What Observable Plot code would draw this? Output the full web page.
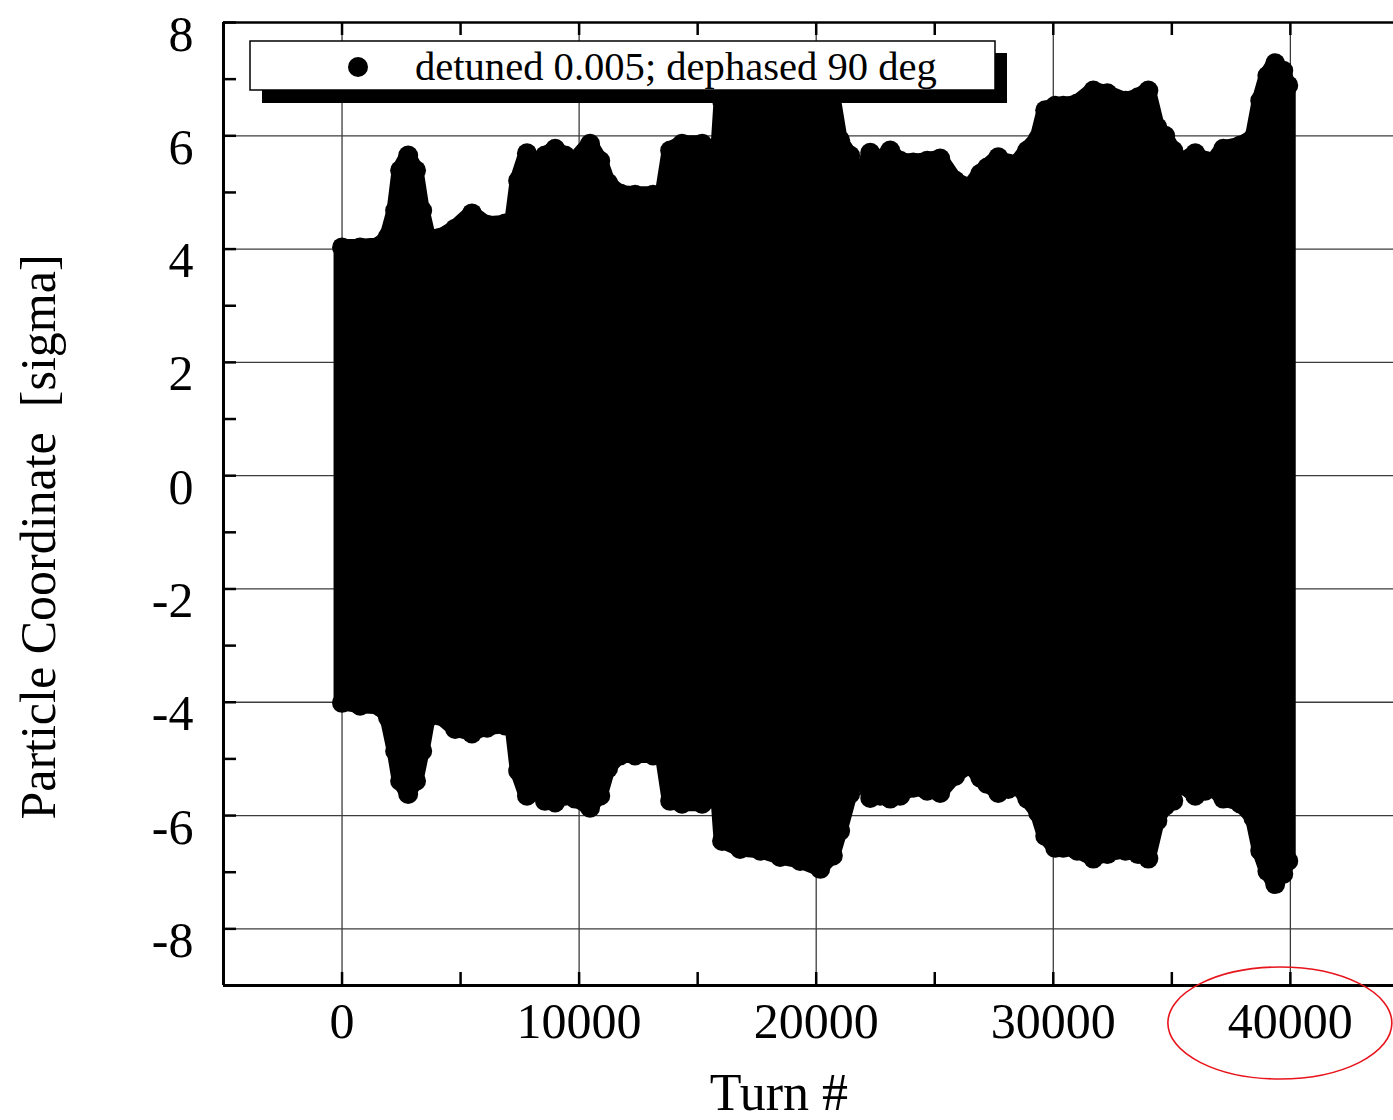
<!DOCTYPE html>
<html>
<head>
<meta charset="utf-8">
<script src="https://cdn.jsdelivr.net/npm/d3@7"></script>
<script src="https://cdn.jsdelivr.net/npm/@observablehq/plot@0.6"></script>
<style>
  html, body { margin: 0; padding: 0; background: #fff; }
  #chart { width: 1393px; height: 1120px; overflow: hidden; }
</style>
</head>
<body>
<div id="chart"></div>
<script>
// Envelope of the tracked particle coordinate (sigma) versus turn number
const turns = [0, 760, 1600, 1940, 2240, 2450, 2790, 3120, 3380, 3630, 4130, 4770, 5480, 6120, 6880, 7210,
  7430, 7800, 8140, 8560, 8990, 9410, 9830, 10460, 10890, 11220, 11730, 12360, 13120, 13540, 13840,
  14340, 15190, 15610, 15900, 16030, 16790, 17640, 18480, 19320, 20170, 20700, 21010, 21430, 21730, 22280, 22700,
  23120, 23540, 24090, 24680, 25230, 25860, 26500, 26920, 27210, 27680, 28100, 28480, 28900, 29360,
  29660, 30080, 30420, 31010, 31690, 32280, 33040, 33580, 34010, 34390, 34720, 35060, 35230, 35480,
  35990, 36410, 36620, 37170, 37890, 38440, 38730, 39030, 39360, 39700, 39910];
const upper = [4.03, 4.03, 4.06, 4.22, 4.68, 5.39, 5.65, 5.39, 4.68, 4.22, 4.20, 4.36, 4.63, 4.43, 4.45, 4.50,
  5.21, 5.69, 5.30, 5.65, 5.77, 5.65, 5.56, 5.86, 5.56, 5.17, 4.98, 4.96, 4.96, 4.94, 5.74,
  5.86, 5.86, 5.77, 5.77, 6.62, 6.71, 6.71, 6.71, 6.71, 6.71, 6.71, 5.92, 5.65, 5.03, 5.70, 5.56,
  5.74, 5.56, 5.53, 5.56, 5.60, 5.21, 5.09, 5.33, 5.44, 5.62, 5.51, 5.51, 5.74, 5.95,
  6.45, 6.53, 6.53, 6.57, 6.80, 6.75, 6.62, 6.68, 6.80, 6.15, 6.00, 5.74, 4.98, 5.56,
  5.69, 5.56, 5.47, 5.77, 5.83, 5.97, 6.62, 7.06, 7.28, 7.15, 6.89];
const lower = [-4.01, -4.06, -4.08, -4.27, -4.86, -5.39, -5.62, -5.39, -4.86, -4.27, -4.24, -4.47, -4.55, -4.45, -4.41, -4.41,
  -5.21, -5.65, -5.39, -5.74, -5.77, -5.65, -5.70, -5.86, -5.65, -5.17, -4.94, -4.94, -4.94, -4.91, -5.74,
  -5.79, -5.79, -5.70, -5.70, -6.45, -6.59, -6.62, -6.73, -6.80, -6.94, -6.71, -6.27, -5.62, -5.03, -5.69, -5.65,
  -5.70, -5.65, -5.51, -5.56, -5.60, -5.30, -5.12, -5.33, -5.44, -5.60, -5.53, -5.47, -5.70, -5.95,
  -6.36, -6.57, -6.57, -6.62, -6.76, -6.68, -6.62, -6.68, -6.76, -6.09, -5.83, -5.74, -4.98, -5.47,
  -5.65, -5.56, -5.47, -5.70, -5.79, -6.04, -6.62, -6.98, -7.21, -7.03, -6.80];

const xTicks = [0, 10000, 20000, 30000, 40000];
const xMinor = [5000, 15000, 25000, 35000];
const yTicks = [-8, -6, -4, -2, 0, 2, 4, 6, 8];
const yMinor = [-7, -5, -3, -1, 1, 3, 5, 7];
const xTitle = "Turn #";
const yTitle = "Particle Coordinate\u00a0\u00a0[sigma]";
const seriesLabel = "detuned 0.005; dephased 90 deg";

const envelope = turns.map((t, i) => ({turn: t, upper: upper[i], lower: lower[i]}));
const edgePoints = envelope.flatMap(d => [{turn: d.turn, v: d.upper}, {turn: d.turn, v: d.lower}]);

const serif = "'Liberation Serif', 'Times New Roman', Times, serif";
const W = 1393, H = 1120;
const mL = 223, mR = 0, mT = 22, mB = 135;
const innerW = W - mL - mR, innerH = H - mT - mB;
const tickLen = 13;

const chart = Plot.plot({
  width: W,
  height: H,
  marginLeft: mL,
  marginRight: mR,
  marginTop: mT,
  marginBottom: mB,
  style: {fontFamily: serif, background: "#fff", color: "#000"},
  x: {domain: [-5000, 44350], axis: null},
  y: {domain: [-9, 8], axis: null},
  marks: [
    // grid
    Plot.ruleX(xTicks, {x: d => d, stroke: "#3c3c3c", strokeWidth: 1.3}),
    Plot.ruleY(yTicks.filter(v => v < 8), {y: d => d, stroke: "#3c3c3c", strokeWidth: 1.3}),
    // particle coordinate band
    Plot.areaY(envelope, {x: "turn", y1: "lower", y2: "upper", fill: "#000", stroke: "#000",
      strokeWidth: 16, strokeLinejoin: "round"}),
    Plot.dot(edgePoints, {x: "turn", y: "v", r: 10, fill: "#000"}),
    // inward ticks
    Plot.ruleX([...xTicks, ...xMinor], {x: d => d, insetTop: innerH - tickLen, stroke: "#000", strokeWidth: 2.5}),
    Plot.ruleX([...xTicks, ...xMinor], {x: d => d, insetBottom: innerH - tickLen, stroke: "#000", strokeWidth: 2.5}),
    Plot.ruleY([...yTicks, ...yMinor], {y: d => d, insetRight: innerW - tickLen, stroke: "#000", strokeWidth: 2.5}),
    // frame
    Plot.ruleX([-5000], {x: d => d, stroke: "#000", strokeWidth: 3}),
    Plot.ruleY([-9], {y: d => d, stroke: "#000", strokeWidth: 3}),
    Plot.ruleY([8], {y: d => d, stroke: "#000", strokeWidth: 2.5}),
    // tick labels
    Plot.text(xTicks, {x: d => d, text: d => String(d), frameAnchor: "bottom", dy: 36,
      fontSize: 50, fontFamily: serif, fill: "#000", lineAnchor: "middle"}),
    Plot.text(yTicks, {y: d => d, text: d => String(d), frameAnchor: "left", dx: -30, dy: 12,
      textAnchor: "end", fontSize: 50, fontFamily: serif, fill: "#000", lineAnchor: "middle"})
  ]
});

document.getElementById("chart").appendChild(chart);

const svg = d3.select(chart);
const xs = chart.scale("x");

// axis titles
svg.append("text")
  .attr("x", 779).attr("y", 1110)
  .attr("text-anchor", "middle")
  .attr("font-family", serif).attr("font-size", 52).attr("fill", "#000")
  .text(xTitle);
svg.append("text")
  .attr("transform", "translate(55,537) rotate(-90)")
  .attr("text-anchor", "middle")
  .attr("font-family", serif).attr("font-size", 50).attr("fill", "#000")
  .text(yTitle);

// legend box with drop shadow
const lg = svg.append("g");
lg.append("rect").attr("x", 262).attr("y", 53).attr("width", 745).attr("height", 50).attr("fill", "#000");
lg.append("rect").attr("x", 250).attr("y", 41).attr("width", 745).attr("height", 49)
  .attr("fill", "#fff").attr("stroke", "#000").attr("stroke-width", 1.5);
lg.append("circle").attr("cx", 358).attr("cy", 67).attr("r", 10).attr("fill", "#000");
lg.append("text").attr("x", 415).attr("y", 80)
  .attr("text-anchor", "start")
  .attr("font-family", serif).attr("font-size", 40.6).attr("fill", "#000")
  .text(seriesLabel);

// highlight around the last turn label
svg.append("ellipse")
  .attr("cx", xs.apply(40000) - 10).attr("cy", 1023)
  .attr("rx", 112).attr("ry", 56)
  .attr("fill", "none").attr("stroke", "#e8141c").attr("stroke-width", 1.6);
</script>
</body>
</html>
